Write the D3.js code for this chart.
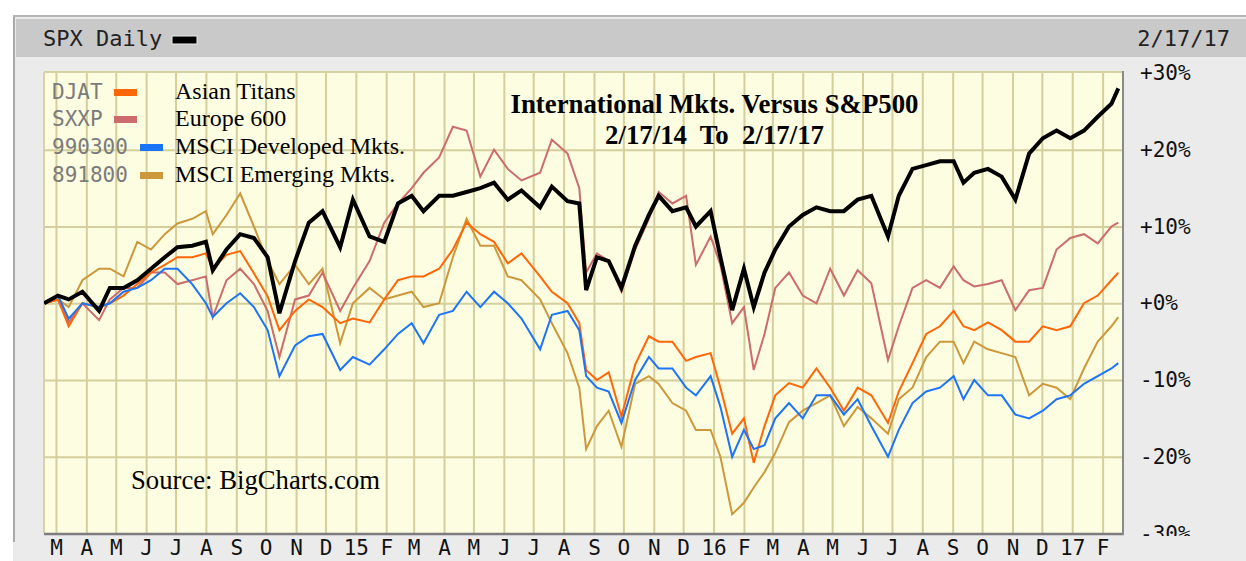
<!DOCTYPE html>
<html>
<head>
<meta charset="utf-8">
<script src="https://cdn.jsdelivr.net/npm/d3@7"></script>
<style>
body { margin: 0; background: #fff; }
text { font-family: "DejaVu Sans Mono", monospace; }
.serif { font-family: "Liberation Serif", "Times New Roman", serif; }
</style>
</head>
<body>
<svg id="chart" width="1246" height="561"></svg>
<script>
// sample dates (about every two weeks, plus the sharp market days)
const dates = ["2014-02-17","2014-03-03","2014-03-14","2014-03-28","2014-04-14","2014-04-25","2014-05-09","2014-05-23","2014-06-06","2014-06-20",
  "2014-07-03","2014-07-18","2014-08-01","2014-08-08","2014-08-22","2014-09-05","2014-09-19","2014-10-03","2014-10-15","2014-10-31",
  "2014-11-14","2014-11-28","2014-12-16","2014-12-29","2015-01-15","2015-01-30","2015-02-13","2015-02-27","2015-03-11","2015-03-27",
  "2015-04-10","2015-04-24","2015-05-08","2015-05-22","2015-06-05","2015-06-19","2015-07-08","2015-07-20","2015-08-05","2015-08-17",
  "2015-08-24","2015-09-04","2015-09-16","2015-09-29","2015-10-13","2015-10-27","2015-11-06","2015-11-20","2015-12-04","2015-12-14",
  "2015-12-29","2016-01-08","2016-01-20","2016-02-01","2016-02-11","2016-02-22","2016-03-04","2016-03-18","2016-04-01","2016-04-15",
  "2016-04-29","2016-05-13","2016-05-27","2016-06-10","2016-06-27","2016-07-08","2016-07-22","2016-08-05","2016-08-19","2016-09-02",
  "2016-09-12","2016-09-23","2016-10-07","2016-10-21","2016-11-04","2016-11-18","2016-12-02","2016-12-16","2016-12-30","2017-01-13",
  "2017-01-27","2017-02-10","2017-02-17"]

// % change since 2/17/14
const spx = [0, 1, 0.5, 1.5, -1, 2, 2, 3, 4.5, 6,
  7.3, 7.5, 8, 4.3, 7, 9, 8.5, 6, -1.3, 5.5,
  10.5, 12, 7.3, 13.5, 8.7, 8, 13, 14, 12, 14,
  14, 14.5, 15, 15.7, 13.5, 14.7, 12.5, 15.2, 13.3, 13,
  1.7, 6, 5.5, 2, 7.5, 11.5, 14, 12, 12.5, 10,
  12, 6, -0.9, 4.5, -0.5, 4, 7, 10, 11.5, 12.5,
  12, 12, 13.5, 14, 8.7, 14, 17.5, 18, 18.5, 18.5,
  15.7, 17, 17.5, 16.5, 13.5, 19.5, 21.5, 22.5, 21.5, 22.5,
  24.3, 26, 28]
const djat = [0, 0.5, -3, 0, -0.5, 0, 1, 2.5, 4, 5,
  6, 6, 6.5, 4.5, 6.3, 6.8, 3.9, 0.9, -3.5, -1,
  0.5, -0.5, -2.6, -2, -2.5, 0.5, 3, 3.5, 3.5, 4.5,
  7, 10.5, 9, 8, 5.2, 6.5, 3.5, 1.5, 0, -2.6,
  -8.7, -10, -9, -14.8, -8, -4.3, -5, -5, -7.5, -7,
  -6.5, -11, -17, -15, -20.8, -16, -12, -10.4, -11, -8.5,
  -11, -14, -11, -12, -15.6, -11.5, -7.8, -4, -3, -1,
  -3, -3.5, -2.5, -3.5, -5, -5, -3, -3.5, -3, 0,
  1, 3, 4]
const sxxp = [0, 0.5, -2.5, 0, -2.2, 0.5, 2, 2, 4, 4,
  2.5, 3, 3.5, -1.8, 3, 4.5, 2.5, -1, -7, 0.5,
  1, 4, -1, 2, 5.5, 10.5, 13, 15, 17, 19,
  23, 22.5, 16.5, 20, 17.5, 16, 17, 21.3, 19.5, 15,
  4, 6.5, 5.5, 1.5, 7, 11, 14.5, 13, 14, 5,
  8.7, 5, -2.6, -0.5, -8.7, -4, 2, 4, 1, 0,
  4.5, 1, 4.3, 2.6, -7.4, -3, 2, 3, 2, 4.8,
  3, 2.2, 2.5, 3, -0.9, 1.7, 2, 7, 8.5, 9,
  7.8, 10, 10.5]
const msciDev = [0, 1, -2, 0, -0.5, 0, 1.5, 2, 3, 4.5,
  4.5, 2.5, 0, -1.8, 0, 1.3, -0.5, -3.5, -9.5, -5.5,
  -4.3, -4, -8.7, -7, -8, -6, -4, -2.6, -5.2, -1.5,
  -1, 1.5, -0.5, 1.5, 0, -2, -6, -1.5, -1, -3.5,
  -9.5, -11, -11.5, -15.6, -10, -7, -8.5, -8.5, -11, -12,
  -9.5, -13.5, -20, -16.5, -19, -18.5, -15, -13, -15, -12,
  -12, -14.5, -12.5, -16, -20, -16.5, -13, -11.5, -11, -9.5,
  -12.5, -10, -12, -12, -14.5, -15, -14, -12.5, -12, -10.5,
  -9.5, -8.5, -7.8]
const msciEm = [0, 0.5, -0.5, 3, 4.5, 4.5, 3.5, 8, 7, 9,
  10.4, 11, 12, 9, 11.5, 14.3, 10, 5.5, 2.5, 5,
  2.5, 4.5, -5.2, 0, 2, 0.5, 1, 1.5, -0.5, 0,
  6, 11, 7.5, 7.5, 3.5, 3, 0.5, -2.6, -6.5, -11,
  -19, -16, -14, -18.7, -10.5, -9.5, -10.5, -13, -14, -16.5,
  -16.5, -20, -27.5, -26, -24, -22, -19.5, -15.5, -14, -13,
  -12, -16, -13.5, -15, -17, -12.5, -11, -7, -5, -5,
  -7.8, -5, -6, -6.5, -7, -12, -10.5, -11, -12.5, -8.5,
  -5, -3, -1.8]

const legendCodes = ["DJAT", "SXXP", "990300", "891800"]
const legendNames = ["Asian Titans", "Europe 600", "MSCI Developed Mkts.", "MSCI Emerging Mkts."]
const colors = ["#ff6608", "#cc6c6c", "#1c74f8", "#cc983c"]

const monthLabels = ["M","A","M","J","J","A","S","O","N","D","15","F","M","A","M","J","J","A","S","O","N","D",
  "16","F","M","A","M","J","J","A","S","O","N","D","17","F"]
const yTicks = [30, 20, 10, 0, -10, -20, -30]
const yTickLabels = ["+30%", "+20%", "+10%", "+0%", "-10%", "-20%", "-30%"]

const W = 1246, H = 561
const plot = {left: 44, right: 1123, top: 73, bottom: 533}
const parse = d3.utcParse("%Y-%m-%d")
const days = dates.map(parse)

const x = d3.scaleUtc()
    .domain([parse("2014-02-17"), parse("2017-02-17")])
    .range([44.2, 1118.3])
const y = d3.scaleLinear()
    .domain([-30, 30])
    .range([533.5, 73])

const svg = d3.select("#chart")

// outer panel + header
svg.append("rect").attr("x", 13).attr("y", 15).attr("width", W - 13).attr("height", H - 15).attr("fill", "#ebebeb")
svg.append("line").attr("x1", 14).attr("x2", 14).attr("y1", 15).attr("y2", 542).attr("stroke", "#a8a8a8").attr("stroke-width", 2)
svg.append("line").attr("x1", 13).attr("x2", W).attr("y1", 16).attr("y2", 16).attr("stroke", "#b4b4b4").attr("stroke-width", 2)
svg.append("rect").attr("x", 16).attr("y", 19).attr("width", W - 16).attr("height", 38).attr("fill", "#c9c9c9")

svg.append("text").attr("x", 43).attr("y", 46).attr("font-size", 22).attr("fill", "#222").text("SPX Daily")
svg.append("rect").attr("x", 172).attr("y", 36).attr("width", 25).attr("height", 8)
    .attr("fill", "#000").attr("stroke", "#eee").attr("stroke-width", 1)
svg.append("text").attr("x", 1230).attr("y", 46).attr("text-anchor", "end").attr("font-size", 22).attr("fill", "#222").text("2/17/17")

// plot background
svg.append("rect").attr("x", plot.left).attr("y", plot.top - 1)
    .attr("width", plot.right - plot.left).attr("height", plot.bottom - plot.top + 1)
    .attr("fill", "#fdfde1")

const monthTicks = d3.utcMonth.range(parse("2014-03-01"), parse("2017-02-17"))

// vertical grid
svg.append("g")
    .attr("transform", `translate(0,${plot.bottom})`)
    .call(d3.axisBottom(x).tickValues(monthTicks).tickSize(-(plot.bottom - plot.top)).tickFormat(""))
    .call(g => g.select(".domain").remove())
    .call(g => g.selectAll("line").attr("stroke", "#d4cf9c").attr("stroke-width", 2))

// horizontal grid
svg.append("g")
    .attr("transform", `translate(${plot.left},0)`)
    .call(d3.axisLeft(y).tickValues([20, 10, 0, -10, -20]).tickSize(-(plot.right - plot.left)).tickFormat(""))
    .call(g => g.select(".domain").remove())
    .call(g => g.selectAll("line").attr("stroke", "#d4cf9c").attr("stroke-width", 2))

svg.append("line").attr("x1", plot.left).attr("x2", plot.right).attr("y1", plot.top - 1).attr("y2", plot.top - 1)
    .attr("stroke", "#d6d2a4").attr("stroke-width", 2)
svg.append("line").attr("x1", plot.left).attr("x2", plot.left).attr("y1", plot.top - 1).attr("y2", plot.bottom)
    .attr("stroke", "#d6d2a4").attr("stroke-width", 2)

svg.append("clipPath").attr("id", "clip")
    .append("rect").attr("x", plot.left).attr("y", plot.top - 1)
    .attr("width", plot.right - plot.left).attr("height", plot.bottom - plot.top + 1)

const line = d3.line()
    .x((d, i) => x(days[i]))
    .y(d => y(d))

const series = [
    {values: msciEm, color: colors[3], width: 2},
    {values: sxxp, color: colors[1], width: 2},
    {values: djat, color: colors[0], width: 2},
    {values: msciDev, color: colors[2], width: 2},
    {values: spx, color: "#000", width: 4}
]

svg.append("g")
    .attr("clip-path", "url(#clip)")
    .selectAll("path")
    .data(series)
    .join("path")
    .attr("fill", "none")
    .attr("stroke", d => d.color)
    .attr("stroke-width", d => d.width)
    .attr("stroke-linejoin", "miter")
    .attr("d", d => line(d.values))

// plot frame (bottom / right)
svg.append("line").attr("x1", plot.left).attr("x2", plot.right + 1).attr("y1", plot.bottom + 1).attr("y2", plot.bottom + 1)
    .attr("stroke", "#7d7d7d").attr("stroke-width", 2.5)
svg.append("line").attr("x1", plot.right).attr("x2", plot.right).attr("y1", plot.top - 2).attr("y2", plot.bottom + 2)
    .attr("stroke", "#8a8a8a").attr("stroke-width", 2)

// legend
const legend = svg.append("g")
    .selectAll("g")
    .data(legendCodes)
    .join("g")
    .attr("transform", (d, i) => `translate(0,${[92, 119, 147, 175][i]})`)

legend.append("text")
    .attr("x", 52).attr("y", 7)
    .attr("font-size", 21).attr("fill", "#7b7b7b")
    .text(d => d)
legend.append("rect")
    .attr("x", (d, i) => i < 2 ? 114 : 140).attr("y", -3)
    .attr("width", 23).attr("height", 7)
    .attr("fill", (d, i) => colors[i])
legend.append("text")
    .attr("class", "serif")
    .attr("x", 175).attr("y", 7)
    .attr("font-size", 24).attr("fill", "#000")
    .text((d, i) => legendNames[i])

// title + source
svg.append("text").attr("class", "serif")
    .attr("x", 714.5).attr("y", 113).attr("text-anchor", "middle")
    .attr("font-size", 26.8).attr("font-weight", "bold")
    .text("International Mkts. Versus S&P500")
svg.append("text").attr("class", "serif")
    .attr("x", 714.5).attr("y", 144).attr("text-anchor", "middle")
    .attr("font-size", 26.8).attr("font-weight", "bold")
    .style("white-space", "pre")
    .text("2/17/14  To  2/17/17")
svg.append("text").attr("class", "serif")
    .attr("x", 131).attr("y", 489)
    .attr("font-size", 26.7)
    .text("Source: BigCharts.com")

// right axis
svg.append("g")
    .attr("transform", "translate(1140,0)")
    .call(d3.axisRight(y).tickValues(yTicks).tickFormat((d, i) => yTickLabels[i]).tickSize(0).tickPadding(0))
    .call(g => g.select(".domain").remove())
    .call(g => g.selectAll("text").attr("font-size", 21).attr("fill", "#111").attr("font-family", "DejaVu Sans Mono"))

// bottom band with month letters
svg.append("rect").attr("x", 38).attr("y", 536).attr("width", W - 38).attr("height", H - 536).attr("fill", "#ebebeb")
svg.append("g")
    .attr("transform", "translate(0,540)")
    .call(d3.axisBottom(x).tickValues(monthTicks).tickFormat((d, i) => monthLabels[i]).tickSize(0).tickPadding(0))
    .call(g => g.select(".domain").remove())
    .call(g => g.selectAll("text").attr("font-size", 21).attr("fill", "#111").attr("font-family", "DejaVu Sans Mono"))
</script>
</body>
</html>
